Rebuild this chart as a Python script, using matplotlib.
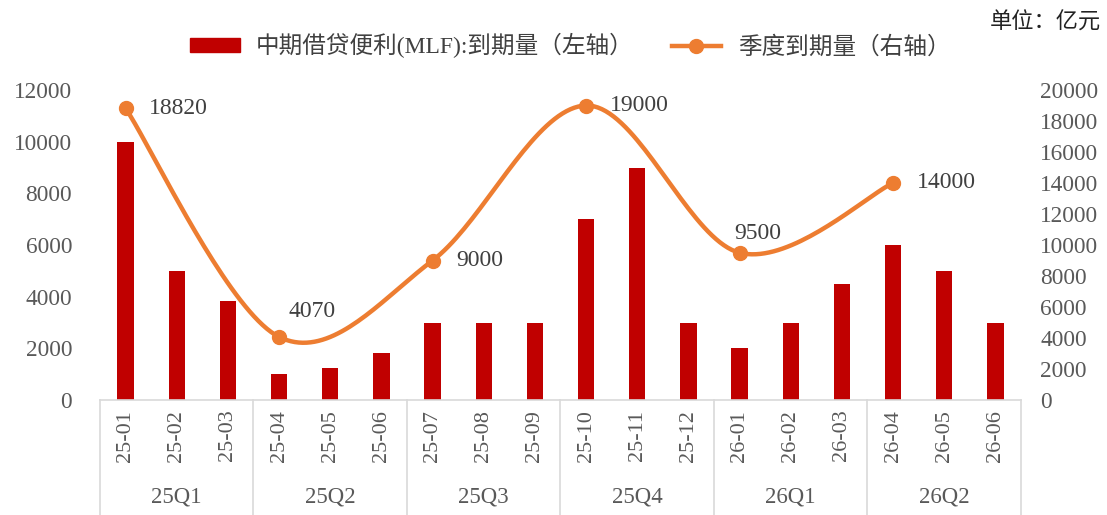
import numpy as np
import matplotlib
matplotlib.use('Agg')
import matplotlib.pyplot as plt
import matplotlib.transforms as mtransforms
from matplotlib.patches import Patch
from matplotlib.lines import Line2D

plt.rcParams['font.family'] = ['Liberation Serif', 'Noto Sans CJK SC', 'DejaVu Sans']

months = ['25-01', '25-02', '25-03', '25-04', '25-05', '25-06',
          '25-07', '25-08', '25-09', '25-10', '25-11', '25-12',
          '26-01', '26-02', '26-03', '26-04', '26-05', '26-06']
mlf_due = [10000, 5000, 3820, 1000, 1250, 1820,
           3000, 3000, 3000, 7000, 9000, 3000,
           2000, 3000, 4500, 6000, 5000, 3000]
quarters = ['25Q1', '25Q2', '25Q3', '25Q4', '26Q1', '26Q2']
quarter_due = [18820, 4070, 9000, 19000, 9500, 14000]
quarter_month_idx = [0, 3, 6, 9, 12, 15]

bar_color = '#C00000'
line_color = '#ED7D31'
tick_color = '#595959'
label_color = '#404040'


def smooth_curve(xs, ys, n=40):
    # Bezier smoothing like the office "smoothed line" option
    xs = np.asarray(xs, float)
    ys = np.asarray(ys, float)
    px = np.concatenate([[xs[0]], xs, [xs[-1]]])
    py = np.concatenate([[ys[0]], ys, [ys[-1]]])
    out_x, out_y = [], []
    t = np.linspace(0, 1, n)
    for i in range(1, len(px) - 2):
        p0 = np.array([px[i], py[i]])
        p3 = np.array([px[i + 1], py[i + 1]])
        p1 = p0 + (np.array([px[i + 1], py[i + 1]]) - np.array([px[i - 1], py[i - 1]])) / 6
        p2 = p3 - (np.array([px[i + 2], py[i + 2]]) - np.array([px[i], py[i]])) / 6
        b = ((1 - t) ** 3)[:, None] * p0 + (3 * (1 - t) ** 2 * t)[:, None] * p1 \
            + (3 * (1 - t) * t ** 2)[:, None] * p2 + (t ** 3)[:, None] * p3
        out_x.extend(b[:, 0])
        out_y.extend(b[:, 1])
    return np.array(out_x), np.array(out_y)


fig = plt.figure(figsize=(11.07, 5.15), dpi=100)
ax = fig.add_axes([100 / 1107, 115 / 515, 921 / 1107, 310 / 515])
x = np.arange(len(months))
ax.bar(x, mlf_due, width=0.32, color=bar_color, zorder=2)
ax.set_xlim(-0.5, len(months) - 0.5)
ax.set_ylim(0, 12000)
ax.set_yticks(np.arange(0, 12001, 2000))
ax.tick_params(axis='y', length=0, pad=20, labelsize=16.8, labelcolor=tick_color)
ax.set_xticks(x)
ax.set_xticklabels(months, rotation=90, fontsize=16, color=tick_color)
ax.tick_params(axis='x', length=0, pad=7)
for s in ['top', 'left', 'right']:
    ax.spines[s].set_visible(False)
ax.spines['bottom'].set_color('#D9D9D9')
ax.spines['bottom'].set_linewidth(1.2)

# quarter group labels and separators under the axis
trans = mtransforms.blended_transform_factory(ax.transData, ax.transAxes)
for k in range(len(quarters) + 1):
    xb = k * 3 - 0.5
    ax.plot([xb, xb], [0, -0.375], transform=trans, color='#D9D9D9', lw=1.2, clip_on=False)
for k, q in enumerate(quarters):
    ax.text(k * 3 + 1, -0.313, q, transform=trans, ha='center', va='center',
            fontsize=16.5, color=tick_color)

ax2 = ax.twinx()
ax2.set_ylim(0, 20000)
ax2.set_yticks(np.arange(0, 20001, 2000))
ax2.tick_params(axis='y', length=0, pad=14, labelsize=16.8, labelcolor=tick_color)
for s in ax2.spines.values():
    s.set_visible(False)

cx, cy = smooth_curve(quarter_month_idx, quarter_due)
ax2.plot(cx, cy, color=line_color, lw=3.2, solid_capstyle='round', zorder=3)
ax2.plot(quarter_month_idx, quarter_due, 'o', color=line_color, ms=10, zorder=4)

label_offsets = [(17, 0, 'left'), (7, 18, 'left'), (17, 0, 'left'),
                 (17, 0, 'left'), (-4, 14, 'left'), (17, 0, 'left')]
for xi, yi, (dx, dy, ha) in zip(quarter_month_idx, quarter_due, label_offsets):
    ax2.annotate(str(yi), (xi, yi), xytext=(dx, dy), textcoords='offset points',
                 ha=ha, va='center', fontsize=17, color=label_color)

handles = [Patch(color=bar_color),
           Line2D([0], [0], color=line_color, lw=3.2, marker='o', ms=10)]
fig.legend(handles, ['中期借贷便利(MLF):到期量（左轴）', '季度到期量（右轴）'],
           loc='center', bbox_to_anchor=(0.515, 0.911), ncol=2, frameon=False,
           fontsize=17, handlelength=2.1, handleheight=0.55, columnspacing=1.6,
           handletextpad=0.7, labelcolor=label_color)

fig.text(0.995, 0.955, '单位：亿元', ha='right', va='center', fontsize=16, color='#222222')

fig.savefig('out.png', dpi=100)
